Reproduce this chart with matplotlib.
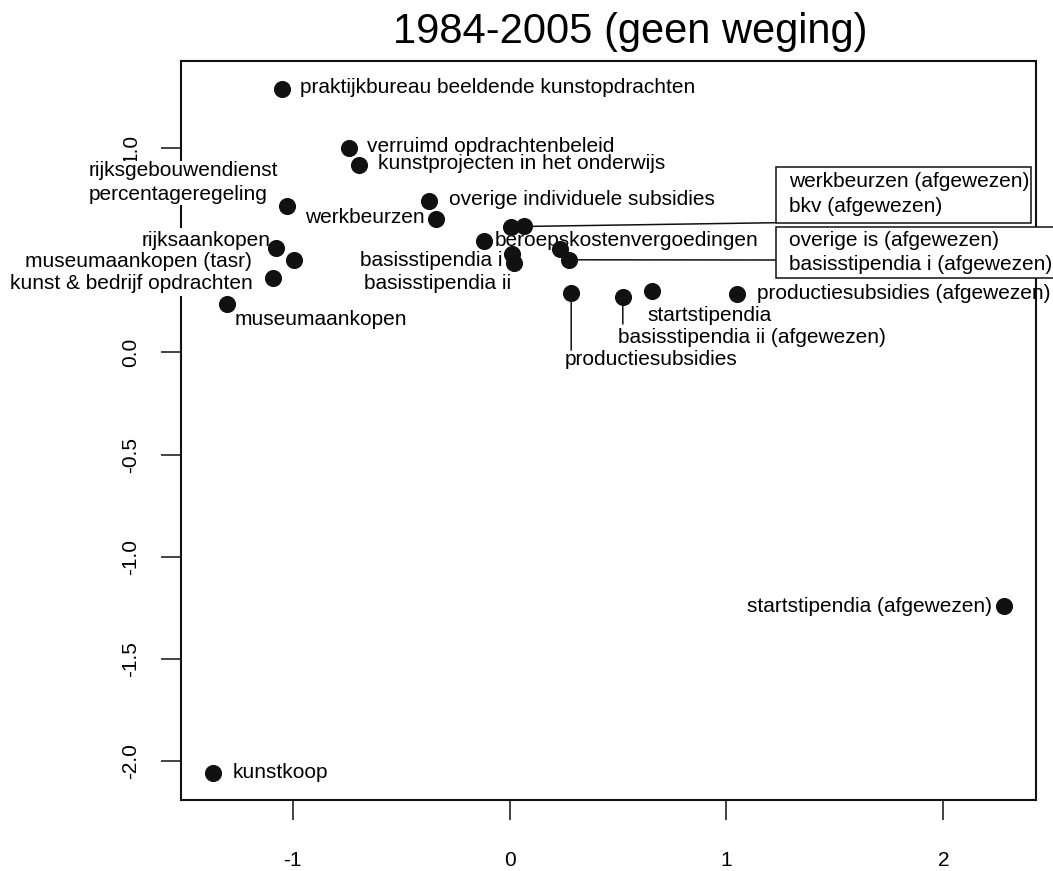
import matplotlib
matplotlib.use("Agg")
import matplotlib.pyplot as plt
from matplotlib.patches import Rectangle, ConnectionPatch

plt.rcParams['font.family'] = ['Liberation Sans', 'DejaVu Sans']
plt.rcParams['axes.unicode_minus'] = False

# dimension 1 / dimension 2 scores
labels = [
    "praktijkbureau beeldende kunstopdrachten",
    "verruimd opdrachtenbeleid",
    "kunstprojecten in het onderwijs",
    "rijksgebouwendienst\npercentageregeling",
    "overige individuele subsidies",
    "werkbeurzen",
    "rijksaankopen",
    "museumaankopen (tasr)",
    "kunst & bedrijf opdrachten",
    "museumaankopen",
    "beroepskostenvergoedingen",
    "werkbeurzen (afgewezen)",
    "bkv (afgewezen)",
    "basisstipendia i",
    "basisstipendia ii",
    "overige is (afgewezen)",
    "basisstipendia i (afgewezen)",
    "productiesubsidies",
    "basisstipendia ii (afgewezen)",
    "startstipendia",
    "productiesubsidies (afgewezen)",
    "startstipendia (afgewezen)",
    "kunstkoop",
]
dim1 = [-1.051, -0.739, -0.696, -1.025, -0.373, -0.341, -1.075, -0.995, -1.091,
        -1.303, -0.120, 0.008, 0.065, 0.012, 0.018, 0.234, 0.276, 0.284, 0.522,
        0.658, 1.047, 2.281, -1.369]
dim2 = [1.289, 1.002, 0.916, 0.715, 0.743, 0.654, 0.509, 0.453, 0.362, 0.238,
        0.546, 0.613, 0.616, 0.483, 0.437, 0.506, 0.453, 0.290, 0.271, 0.302,
        0.286, -1.242, -2.055]
xticks = [-1, 0, 1, 2]
yticks = [-2.0, -1.5, -1.0, -0.5, 0.0, 0.5, 1.0]
title = "1984-2005 (geen weging)"

# label placement: offset in pixels from the point (dx, dy up), alignment
label_pos = {
    0: (18, 1, 'left'), 1: (18, 1, 'left'), 2: (19, 2, 'left'),
    3: (-199, 23.5, 'left'), 4: (20, 0.7, 'left'), 5: (-11, 1, 'right'),
    6: (-6, 8, 'right'), 7: (-42, -2, 'right'), 8: (-20, -5, 'right'),
    9: (8, -16, 'left'), 10: (11, 0, 'left'), 13: (-10, -7, 'right'),
    14: (-2, -20, 'right'), 17: (-7, -66, 'left'), 18: (-5, -40, 'left'),
    19: (-5, -25, 'left'), 20: (20, 0, 'left'), 21: (-12, 0, 'right'),
    22: (20, 0, 'left'),
}
masked = {3: 0.6, 6: 2.0, 7: 2.0, 8: 2.0}   # labels with a white background (pad)
leaders = {17: -57, 18: -27}   # vertical leader line length (pixels)
# boxed groups: members, text left, line centres (px from top), rect, line end
boxes = [
    ([11, 12], 789, [181.7, 206.7], (776, 166.7, 1031, 222.7), (12, 776, 222.7)),
    ([15, 16], 789, [240.0, 265.0], (776, 227.3, 1058, 278.3), (16, 776, 260.0)),
]

W, H = 1053, 871
fs = 15
fig = plt.figure(figsize=(W / 100, H / 100), dpi=100)
ax = fig.add_axes([181 / W, (H - 800) / H, 855 / W, 738.5 / H])

ax.plot(dim1, dim2, 'o', color='#111111', markersize=11.3, zorder=5)
ax.margins(0.04)

for i, (dx, dy, ha) in label_pos.items():
    bb = None
    if i in masked:
        bb = dict(facecolor='white', edgecolor='none', pad=masked[i])
    ax.annotate(labels[i], (dim1[i], dim2[i]), xytext=(dx, dy),
                textcoords='offset pixels', ha=ha, va='center', fontsize=fs,
                multialignment='left', linespacing=1.3, zorder=3, bbox=bb)

for i, ln in leaders.items():
    ax.annotate('', (dim1[i], dim2[i]), xytext=(0, ln), textcoords='offset pixels',
                arrowprops=dict(arrowstyle='-', lw=1.1, color='#111111',
                                shrinkA=0, shrinkB=0), zorder=2)

for members, tx, lys, (x0, y0, x1, y1), (pi, lx, ly) in boxes:
    fig.add_artist(Rectangle((x0 / W, (H - y1) / H), (x1 - x0) / W, (y1 - y0) / H,
                             transform=fig.transFigure, facecolor='white',
                             edgecolor='#111111', lw=1.1, zorder=2))
    for m, yy in zip(members, lys):
        fig.text(tx / W, (H - yy) / H, labels[m], ha='left', va='center',
                 fontsize=fs, zorder=4)
    fig.add_artist(ConnectionPatch((dim1[pi], dim2[pi]), (lx, H - ly),
                                   coordsA=ax.transData, coordsB='figure pixels',
                                   color='#111111', lw=1.1, zorder=1))

ax.set_xticks(xticks)
ax.set_xticklabels([str(t) for t in xticks])
ax.set_yticks(yticks)
# the 0.5 label sits behind the white label boxes in the original
ax.set_yticklabels(["" if t == 0.5 else "%.1f" % t for t in yticks],
                   rotation=90, va='center')
ax.tick_params(axis='both', length=14.4, width=1.1, labelsize=fs, color='#111111')
ax.tick_params(axis='x', pad=22)
ax.tick_params(axis='y', pad=15)
for s in ax.spines.values():
    s.set_linewidth(1.5)
    s.set_color('#111111')

fig.text(630 / W, (H - 32) / H, title, ha='center', va='center', fontsize=30)

fig.savefig("out.png", dpi=100)
